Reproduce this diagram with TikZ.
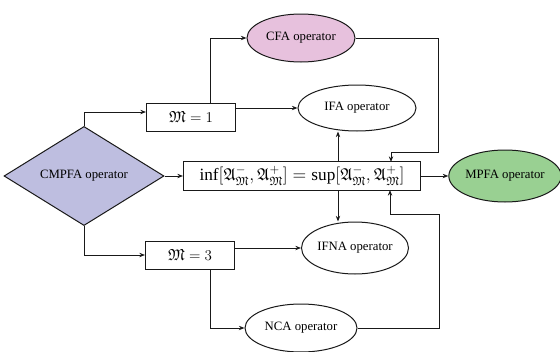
\documentclass[tikz,border=0pt]{standalone}
\usepackage{amsmath,amssymb}
\usepackage{fontspec}
\setmainfont{Liberation Serif}
\usetikzlibrary{shapes.geometric,arrows.meta}
\definecolor{diafill}{RGB}{190,190,224}
\definecolor{cfafill}{RGB}{231,193,221}
\definecolor{mpfafill}{RGB}{153,208,146}
\begin{document}
\begin{tikzpicture}[x=0.8pt,y=-0.8pt,
  every node/.style={font=\fontsize{10.2}{12}\selectfont},
  conn/.style={draw=black!90,line width=0.8pt,-{Stealth[length=4.5pt,width=3.5pt]}},
  boxnode/.style={draw=black!90,line width=0.8pt,rectangle,inner sep=0pt},
  ellnode/.style={draw=black!90,line width=0.8pt,ellipse,inner sep=0pt},
  dianode/.style={draw=black!90,line width=0.8pt,diamond,inner sep=0pt,fill=diafill}]
\useasboundingbox (0,0) rectangle (560,352);
\node[dianode,minimum width=128pt,minimum height=56.8pt] (dia) at (84,176) {CMPFA operator};
\node[boxnode,minimum width=71.2pt,minimum height=22.4pt] (m1) at (191,117) {\fontsize{12.8}{14}\selectfont$\mathfrak{M}=1$};
\node[boxnode,minimum width=71.2pt,minimum height=22.4pt] (m3) at (190,255) {\fontsize{12.8}{14}\selectfont$\mathfrak{M}=3$};
\node[boxnode,minimum width=189.6pt,minimum height=23.2pt] (cb) at (302,176) {\fontsize{13.8}{15}\selectfont$\inf[\mathfrak{A}^-_{\mathfrak{M}},\mathfrak{A}^+_{\mathfrak{M}}]=\sup[\mathfrak{A}^-_{\mathfrak{M}},\mathfrak{A}^+_{\mathfrak{M}}]$};
\node[ellnode,fill=cfafill,minimum width=86.4pt,minimum height=38.4pt] (cfa) at (301,38) {CFA operator};
\node[ellnode,minimum width=94.4pt,minimum height=36.8pt] (ifa) at (357,108) {IFA operator};
\node[ellnode,fill=mpfafill,minimum width=84.8pt,minimum height=41.6pt] (mpfa) at (505,176) {MPFA operator};
\node[ellnode,minimum width=85.6pt,minimum height=41.6pt] (ifna) at (355,248) {IFNA operator};
\node[ellnode,minimum width=89.6pt,minimum height=38.4pt] (nca) at (301,328) {NCA operator};
% bend coordinates
\coordinate (d1) at (84,112);
\coordinate (b1) at (210,103);
\coordinate (b3) at (210,269);
\coordinate (cbt) at (338,162);
\coordinate (cbb) at (338,190);
\coordinate (r1) at (438,152);
\coordinate (in1) at (391,162);
\coordinate (r2) at (439,214);
\coordinate (in2) at (390,190);
% connectors
\draw[conn] (dia.north) |- (m1.west |- d1);
\draw[conn] (dia.south) |- (m3.west);
\draw[conn] (dia.east) -- (cb.west);
\draw[conn] (b1) |- (cfa.west);
\draw[conn] (m1.east |- ifa.west) -- (ifa.west);
\draw[conn] (m3.east |- ifna.west) -- (ifna.west);
\draw[conn] (b3) |- (nca.west);
\draw[conn] (cbt) -- (cbt |- ifa.south);
\draw[conn] (cbb) -- (cbb |- ifna.north);
\draw[conn] (cb.east) -- (mpfa.west);
\draw[conn] (cfa.east) -| (r1) -| (in1);
\draw[conn] (nca.east) -| (r2) -| (in2);
\end{tikzpicture}
\end{document}
